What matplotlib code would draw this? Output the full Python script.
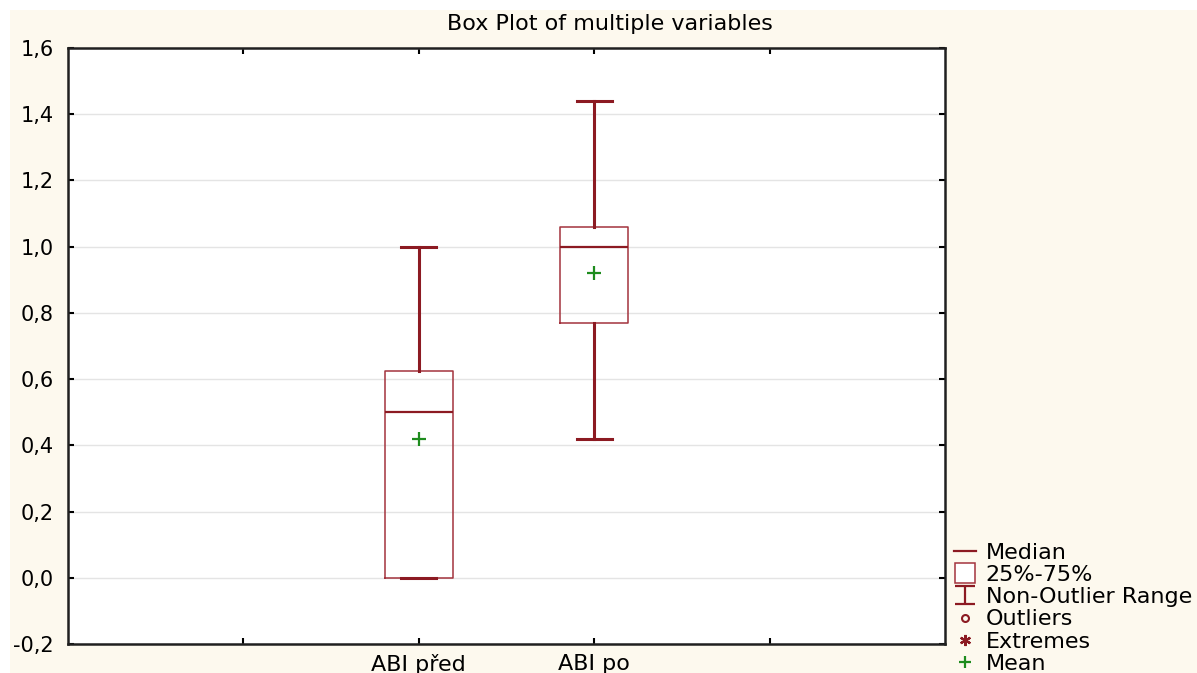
import numpy as np
import matplotlib
matplotlib.use("Agg")
import matplotlib.pyplot as plt
from matplotlib.lines import Line2D
from matplotlib.patches import Rectangle
from matplotlib.path import Path
from matplotlib.ticker import FuncFormatter, MultipleLocator

# summary statistics
labels = ["ABI před", "ABI po"]
q1 = [0.0, 0.77]
q3 = [0.625, 1.06]
medians = [0.5, 1.0]
whis_lo = [0.0, 0.42]
whis_hi = [1.0, 1.44]
means = [0.42, 0.92]

positions = [2, 3]
tick_pos = [1, 2, 3, 4]
tick_labels = ["", labels[0], labels[1], ""]

dark_red = "#8c1a22"
box_red = "#a3333d"
green = "#1e8c1e"
cream = "#fdf9ee"

plt.rcParams["font.family"] = ["DejaVu Sans"]

fig = plt.figure(figsize=(11.97, 6.73), dpi=100)
fig.patch.set_facecolor("white")
fig.patches.append(Rectangle((10 / 1197, 0), 1, 1 - 10 / 673,
                             transform=fig.transFigure, facecolor=cream,
                             edgecolor="none", zorder=-10))

ax = fig.add_axes([68 / 1197, 1 - 644 / 673, (945 - 68) / 1197, (644 - 48) / 673])
ax.set_facecolor("white")

stats = []
for i in range(len(labels)):
    stats.append(dict(label=labels[i], q1=q1[i], q3=q3[i], med=medians[i],
                      whislo=whis_lo[i], whishi=whis_hi[i], mean=means[i],
                      fliers=[]))

ax.bxp(stats, positions=positions, widths=0.39, capwidths=0.2,
       showmeans=True, showfliers=False, patch_artist=False,
       boxprops=dict(color=box_red, linewidth=1.1),
       medianprops=dict(color=dark_red, linewidth=1.6),
       whiskerprops=dict(color=dark_red, linewidth=2.2),
       capprops=dict(color=dark_red, linewidth=2.2),
       meanprops=dict(marker="+", markeredgecolor=green, markersize=10,
                      markeredgewidth=1.6, linestyle="none"))

ax.set_xlim(0, 5)
ax.set_ylim(-0.2, 1.6)
ax.set_xticks(tick_pos)
ax.set_xticklabels(tick_labels, fontsize=16)
ax.yaxis.set_major_locator(MultipleLocator(0.2))
ax.yaxis.set_major_formatter(FuncFormatter(lambda v, p: f"{v:.1f}".replace(".", ",").replace("-0,0", "0,0")))
ax.grid(axis="y", color="#e4e4e4", linewidth=1)
ax.set_axisbelow(True)

ax.tick_params(direction="in", length=4, width=1.5, top=True, right=True,
               colors="black")
ax.tick_params(axis="y", pad=10, labelsize=15)
ax.tick_params(axis="x", pad=7)
for s in ax.spines.values():
    s.set_linewidth(1.8)
    s.set_color("#202020")

fig.text(610 / 1197, 1 - 24 / 673, "Box Plot of multiple variables",
         fontsize=16, ha="center", va="center")

# I-beam marker for the whisker range entry
ibeam = Path([(-1, -0.85), (1, -0.85), (0, -0.85), (0, 0.85), (-1, 0.85), (1, 0.85)],
             [Path.MOVETO, Path.LINETO, Path.MOVETO, Path.LINETO, Path.MOVETO, Path.LINETO])

handles = [
    Line2D([], [], color=dark_red, linewidth=1.6, marker=None),
    Line2D([], [], linestyle="none", marker="s", markersize=15,
           markerfacecolor="white", markeredgecolor=box_red, markeredgewidth=1.1),
    Line2D([], [], linestyle="none", marker=ibeam, markersize=15,
           markeredgecolor=dark_red, markerfacecolor="none", markeredgewidth=1.6),
    Line2D([], [], linestyle="none", marker="o", markersize=5,
           markerfacecolor="none", markeredgecolor=dark_red, markeredgewidth=1.5),
    Line2D([], [], linestyle="none", marker=(6, 2, 0), markersize=8,
           markeredgecolor=dark_red, markeredgewidth=1.6),
    Line2D([], [], linestyle="none", marker="+", markersize=9,
           markeredgecolor=green, markeredgewidth=1.6),
]
legend_labels = ["Median", "25%-75%", "Non-Outlier Range", "Outliers", "Extremes", "Mean"]
fig.legend(handles, legend_labels, loc="lower left",
           bbox_to_anchor=(950 / 1197, -0.008), bbox_transform=fig.transFigure,
           frameon=False, fontsize=16, handlelength=0.95, handletextpad=0.45,
           labelspacing=0.1, borderpad=0.2, borderaxespad=0)

fig.savefig("out.png", dpi=100, facecolor=fig.get_facecolor())
